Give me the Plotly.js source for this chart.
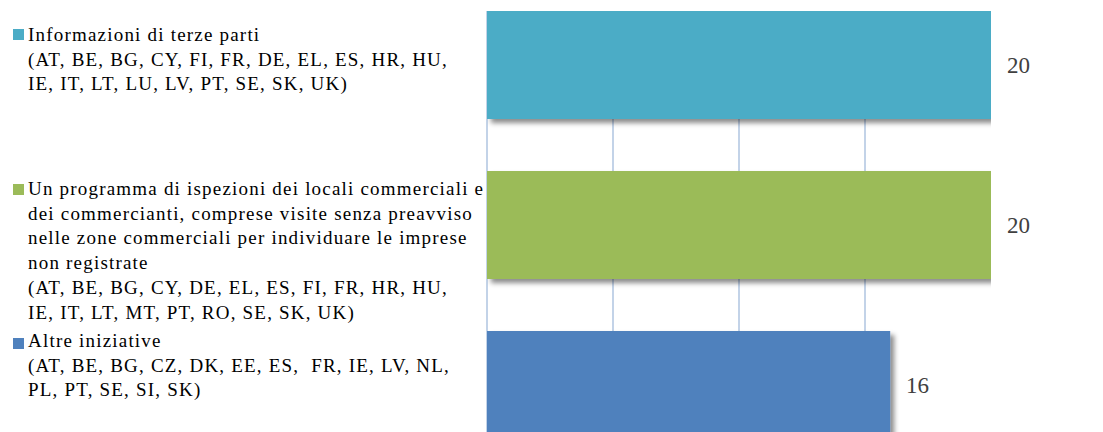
<!DOCTYPE html>
<html><head><meta charset="utf-8">
<script src="https://cdn.plot.ly/plotly-3.0.1.min.js"></script>
<style>html,body{margin:0;padding:0;background:#fff}#chart{width:1103px;height:432px}</style>
</head><body><div id="chart"></div>
<script>
// ---- data ----
const categoryKeys = ["terze", "ispezioni", "altre"];
const categoryTitleLines = [
  ["Informazioni di terze parti"],
  ["Un programma di ispezioni dei locali commerciali e",
   "dei commercianti, comprese visite senza preavviso",
   "nelle zone commerciali per individuare le imprese",
   "non registrate"],
  ["Altre iniziative"]
];
const categoryCountryLines = [
  ["(AT, BE, BG, CY, FI, FR, DE, EL, ES, HR, HU,", "IE, IT, LT, LU, LV, PT, SE, SK, UK)"],
  ["(AT, BE, BG, CY, DE, EL, ES, FI, FR, HR, HU,", "IE, IT, LT, MT, PT, RO, SE, SK, UK)"],
  ["(AT, BE, BG, CZ, DK, EE, ES,&nbsp; FR, IE, LV, NL,", "PL, PT, SE, SI, SK)"]
];
const values = [20, 20, 16];
const barColors = ["#4BACC6", "#9BBB59", "#4F81BD"];
const xTickValues = [0, 5, 10, 15, 20];

// ---- layout helpers ----
const labelX = -0.9147;              // paper x of label text start
const labelTopShift = [43, 49, 57];  // px above category centre (text box top)
const squareTopShift = [36, 41, 47]; // px above category centre (legend square top)
const serif = "Liberation Serif";

const trace = {
  type: "bar",
  orientation: "h",
  x: values,
  y: categoryKeys,
  marker: {color: barColors},
  hoverinfo: "x",
  cliponaxis: false
};

const annotations = [];
const shapes = [];
categoryKeys.forEach((k, i) => {
  const lines = categoryTitleLines[i].concat(categoryCountryLines[i]);
  annotations.push({
    xref: "paper", yref: "y", x: labelX, y: k,
    xanchor: "left", yanchor: "top", yshift: labelTopShift[i],
    align: "left", showarrow: false,
    text: lines.join("<br>"),
    font: {family: serif, size: 19, color: "#000000"}
  });
  annotations.push({
    xref: "x", yref: "y", x: values[i], y: k,
    xanchor: "left", yanchor: "middle", xshift: 14,
    showarrow: false, text: String(values[i]),
    font: {family: serif, size: 23, color: "#404040"}
  });
  shapes.push({
    type: "rect", xref: "paper", yref: "y",
    xsizemode: "pixel", ysizemode: "pixel",
    xanchor: labelX, yanchor: k,
    x0: -13, x1: -2,
    y0: squareTopShift[i] - 11, y1: squareTopShift[i],
    fillcolor: barColors[i], line: {width: 0}
  });
});

const layout = {
  width: 1103, height: 432,
  margin: {l: 487, r: 112, t: 11, b: 0, pad: 0},
  paper_bgcolor: "#ffffff", plot_bgcolor: "#ffffff",
  showlegend: false,
  bargap: 0.325,
  xaxis: {
    range: [0, 20], tickvals: xTickValues, showticklabels: false,
    showgrid: true, gridcolor: "#c3d3e8", gridwidth: 2,
    zeroline: true, zerolinecolor: "#c3d3e8", zerolinewidth: 2,
    showline: false, ticks: "", fixedrange: true
  },
  yaxis: {
    type: "category", categoryorder: "array", categoryarray: categoryKeys,
    range: [2.29375, -0.3375], autorange: false,
    showticklabels: false, showgrid: false, zeroline: false, showline: false,
    ticks: "", fixedrange: true
  },
  annotations: annotations,
  shapes: shapes
};

function finish() {
  const svg = document.querySelector("#chart svg.main-svg");
  const NS = "http://www.w3.org/2000/svg";
  let defs = svg.querySelector("defs");
  if (!defs) { defs = document.createElementNS(NS, "defs"); svg.insertBefore(defs, svg.firstChild); }
  const f = document.createElementNS(NS, "filter");
  f.setAttribute("id", "barshadow");
  f.setAttribute("x", "-10%"); f.setAttribute("y", "-20%");
  f.setAttribute("width", "130%"); f.setAttribute("height", "150%");
  const ds = document.createElementNS(NS, "feDropShadow");
  ds.setAttribute("dx", "4"); ds.setAttribute("dy", "4");
  ds.setAttribute("stdDeviation", "2.5");
  ds.setAttribute("flood-color", "#000000");
  ds.setAttribute("flood-opacity", "0.45");
  f.appendChild(ds);
  defs.appendChild(f);
  document.querySelectorAll("#chart .barlayer .point path").forEach(p => {
    p.setAttribute("filter", "url(#barshadow)");
  });
  // widen the category label text slightly to match the reference proportions
  document.querySelectorAll("#chart .annotation").forEach(g => {
    const idx = +g.getAttribute("data-index");
    if (idx % 2 === 0) {
      const t = g.querySelector("text.annotation-text");
      if (t) t.style.letterSpacing = "1.2px";
    }
  });
}

Plotly.newPlot("chart", [trace], layout, {displayModeBar: false, staticPlot: true}).then(finish);
</script>
</body></html>
